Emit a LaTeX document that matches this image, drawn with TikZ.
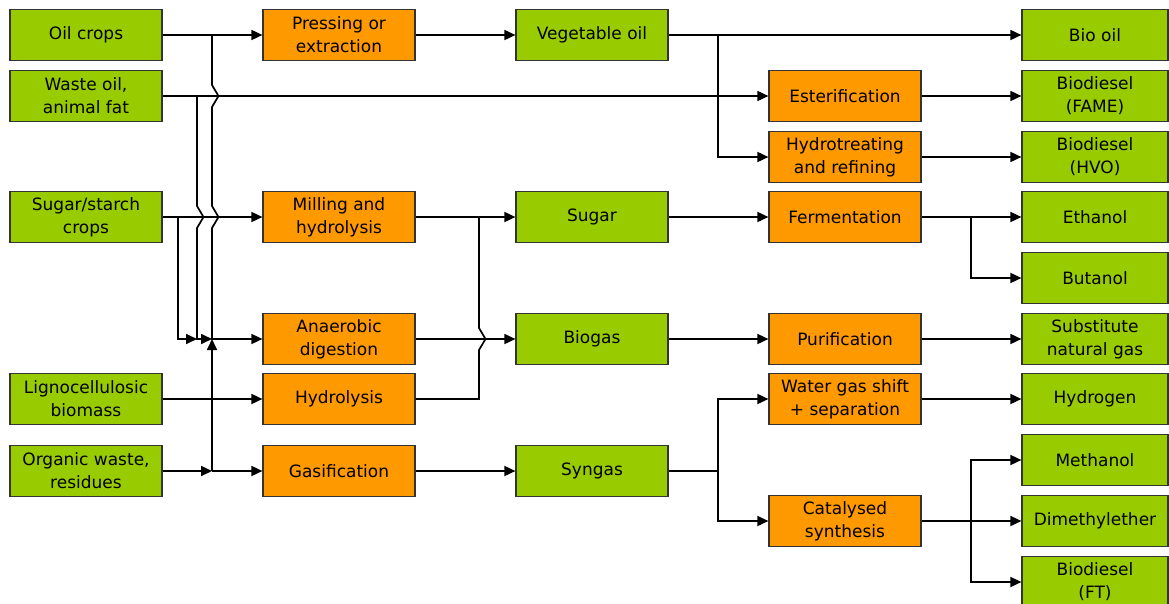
\documentclass[tikz,border=0pt]{standalone}
\usepackage{fontspec}
\setmainfont{DejaVu Sans}
\usetikzlibrary{arrows.meta}
\definecolor{boxgreen}{HTML}{99CC00}
\definecolor{boxorange}{HTML}{FF9900}
\begin{document}
\begin{tikzpicture}[x=1pt,y=-1pt,
  box/.style={draw=black!80,line width=1.2pt,minimum width=152pt,minimum height=51pt,inner sep=0pt,align=center,font=\fontsize{17}{23}\selectfont},
  gbox/.style={box,fill=boxgreen},
  obox/.style={box,fill=boxorange},
  rbox/.style={gbox,minimum width=146pt},
  conn/.style={line width=1.7pt,black},
  arr/.style={conn,-{Triangle[length=11pt,width=10pt]}}]
\useasboundingbox (0,0) rectangle (1169,603);
\begin{scope}
\clip (0,0) rectangle (1169,603);
% column 1
\node[gbox] (oil) at (86,35) {Oil crops};
\node[gbox] (waste) at (86,96) {Waste oil,\\animal fat};
\node[gbox] (sugarc) at (86,217) {Sugar/starch\\crops};
\node[gbox] (ligno) at (86,399) {Lignocellulosic\\biomass};
\node[gbox] (organic) at (86,471) {Organic waste,\\residues};
% column 2
\node[obox] (press) at (339,35) {Pressing or\\extraction};
\node[obox] (mill) at (339,217) {Milling and\\hydrolysis};
\node[obox] (anaer) at (339,339) {Anaerobic\\digestion};
\node[obox] (hydro) at (339,399) {Hydrolysis};
\node[obox] (gasif) at (339,471) {Gasification};
% column 3
\node[gbox] (vegoil) at (592,35) {Vegetable oil};
\node[gbox] (sugar) at (592,217) {Sugar};
\node[gbox] (biogas) at (592,339) {Biogas};
\node[gbox] (syngas) at (592,471) {Syngas};
% column 4
\node[obox] (ester) at (845,96) {Esterification};
\node[obox] (hydrot) at (845,157) {Hydrotreating\\and refining};
\node[obox] (ferm) at (845,217) {Fermentation};
\node[obox] (purif) at (845,339) {Purification};
\node[obox] (wgs) at (845,399) {Water gas shift\\+ separation};
\node[obox] (catal) at (845,521) {Catalysed\\synthesis};
% column 5
\node[rbox] (biooil) at (1095,35) {Bio oil};
\node[rbox] (fame) at (1095,96) {Biodiesel\\(FAME)};
\node[rbox] (hvo) at (1095,157) {Biodiesel\\(HVO)};
\node[rbox] (ethanol) at (1095,217) {Ethanol};
\node[rbox] (butanol) at (1095,278) {Butanol};
\node[rbox] (sng) at (1095,339) {Substitute\\natural gas};
\node[rbox] (hydrogen) at (1095,399) {Hydrogen};
\node[rbox] (methanol) at (1095,460) {Methanol};
\node[rbox] (dme) at (1095,521) {Dimethylether};
\node[rbox] (ft) at (1095,582) {Biodiesel\\(FT)};
\end{scope}
% junction coordinates
\coordinate (jo) at (212,35);
\coordinate (jw) at (197,96);
\coordinate (js) at (178,217);
\coordinate (ma) at (212,339);
\coordinate (mb) at (197,339);
\coordinate (jg) at (212,471);
\coordinate (jh) at (479,399);
\coordinate (jm) at (479,217);
\coordinate (jv) at (718,35);
\coordinate (jsy) at (718,471);
\coordinate (jf) at (971,217);
\coordinate (jc) at (971,521);
% connectors: column 1 -> column 2
\draw[arr] (oil.east) -- (press.west);
\draw[arr] (waste.east) -- (ester.west);
\draw[arr] (sugarc.east) -- (mill.west);
\draw[arr] (ligno.east) -- (hydro.west);
\draw[arr] (organic.east) -- (jg);
\draw[arr] (jg) -- (gasif.west);
\draw[arr] (jg) -- (ma);
\draw[arr] (jo) -- (212,85) -- (218.5,96) -- (212,107) -- (212,206) -- (218.5,217) -- (212,228) -- (ma) -- (anaer.west);
\draw[arr] (jw) -- (197,206) -- (203.5,217) -- (197,228) -- (mb) -- (ma);
\draw[arr] (js) -- (178,339) -- (mb);
% column 2 -> column 3
\draw[arr] (press.east) -- (vegoil.west);
\draw[arr] (mill.east) -- (sugar.west);
\draw[conn] (hydro.east) -- (jh) -- (479,350) -- (485.5,339) -- (479,328) -- (jm);
\draw[arr] (anaer.east) -- (biogas.west);
\draw[arr] (gasif.east) -- (syngas.west);
% column 3 -> column 4/5
\draw[arr] (vegoil.east) -- (biooil.west);
\draw[arr] (jv) |- (hydrot.west);
\draw[arr] (sugar.east) -- (ferm.west);
\draw[arr] (biogas.east) -- (purif.west);
\draw[conn] (syngas.east) -- (jsy);
\draw[arr] (jsy) |- (wgs.west);
\draw[arr] (jsy) |- (catal.west);
% column 4 -> column 5
\draw[arr] (ester.east) -- (fame.west);
\draw[arr] (hydrot.east) -- (hvo.west);
\draw[arr] (ferm.east) -- (ethanol.west);
\draw[arr] (jf) |- (butanol.west);
\draw[arr] (purif.east) -- (sng.west);
\draw[arr] (wgs.east) -- (hydrogen.west);
\draw[arr] (catal.east) -- (dme.west);
\draw[arr] (jc) |- (methanol.west);
\draw[arr] (jc) |- (ft.west);
\end{tikzpicture}
\end{document}
